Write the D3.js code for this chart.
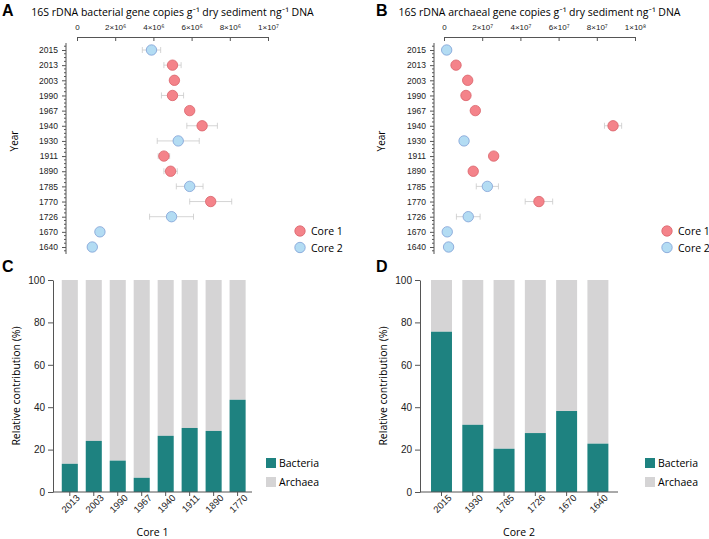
<!DOCTYPE html>
<html>
<head>
<meta charset="utf-8">
<script src="https://cdn.jsdelivr.net/npm/d3@7"></script>
<style>
  body { margin: 0; background: #fff; }
  svg { font-family: "Open Sans", Lato, sans-serif; }
  .axis path, .axis line { stroke: #555; }
  .axis text { fill: #222; }
</style>
</head>
<body>
<div id="chart"></div>
<script>
// ----- data -----
var dotYears = ['2015','2013','2003','1990','1967','1940','1930','1911','1890','1785','1770','1726','1670','1640'];
var dotCore = [2,1,1,1,1,1,2,1,1,2,1,2,2,2];
// panel A: bacterial copies, mean and +/- error
var bacMean = [3.9e6, 5.0e6, 5.1e6, 5.0e6, 5.9e6, 6.55e6, 5.3e6, 4.55e6, 4.9e6, 5.9e6, 7.0e6, 4.95e6, 1.2e6, 0.8e6];
var bacErr  = [0.48e6, 0.45e6, 0.2e6, 0.58e6, 0.15e6, 0.8e6, 1.1e6, 0.3e6, 0.35e6, 0.7e6, 1.1e6, 1.15e6, 0.1e6, 0.1e6];
// panel B: archaeal copies, mean and +/- error
var arcMean = [1.4e6, 6.3e6, 1.24e7, 1.15e7, 1.64e7, 8.85e7, 1.05e7, 2.6e7, 1.53e7, 2.27e7, 4.97e7, 1.27e7, 1.7e6, 2.4e6];
var arcErr  = [1.2e6, 1e6, 2e6, 1e6, 1e6, 4.5e6, 1e6, 1e6, 1e6, 5.8e6, 7.2e6, 6.2e6, 0.5e6, 0.5e6];
var bacTicks = [0, 2e6, 4e6, 6e6, 8e6, 1e7];
var bacTickLabels = ['0', '2×10⁶', '4×10⁶', '6×10⁶', '8×10⁶', '1×10⁷'];
var arcTicks = [0, 2e7, 4e7, 6e7, 8e7, 1e8];
var arcTickLabels = ['0', '2×10⁷', '4×10⁷', '6×10⁷', '8×10⁷', '1×10⁸'];

// panels C and D: relative contribution (%)
var core1Years = ['2013','2003','1990','1967','1940','1911','1890','1770'];
var core1Bacteria = [13.3, 24.1, 14.8, 6.7, 26.5, 30.2, 28.8, 43.5];
var core1Archaea  = [86.7, 75.9, 85.2, 93.3, 73.5, 69.8, 71.2, 56.5];
var core2Years = ['2015','1930','1785','1726','1670','1640'];
var core2Bacteria = [75.6, 31.7, 20.4, 27.8, 38.2, 22.8];
var core2Archaea  = [24.4, 68.3, 79.6, 72.2, 61.8, 77.2];

var core1Fill = '#f4838a', core1Stroke = '#d9626a';
var core2Fill = '#b3dcf3', core2Stroke = '#7f9fd6';
var bacColor = '#1e8280', arcColor = '#d5d4d5';

var svg = d3.select('#chart').append('svg')
            .attr('width', 709)
            .attr('height', 539);

// panel letters
[['A', 2, 16], ['B', 376, 16], ['C', 2, 272], ['D', 376, 272]].forEach(function(p){
    svg.append('text')
        .attr('x', p[1]).attr('y', p[2])
        .text(p[0])
        .style('font-size', '16px')
        .style('font-weight', 'bold')
        .style('font-family', 'Liberation Sans, Arial, sans-serif');
});

// ----- dot panel -----
function dotPanel(opt){
    var g = svg.append('g');
    var xscale = d3.scaleLinear()
                   .domain([0, opt.ticks[opt.ticks.length - 1]])
                   .range([opt.x0, opt.x1]);
    var yscale = d3.scalePoint()
                   .domain(dotYears)
                   .range([50, 247]);

    g.append('text')
        .attr('x', (opt.x0 + opt.x1) / 2)
        .attr('y', 16)
        .style('text-anchor', 'middle')
        .style('font-size', '10.5px')
        .text(opt.title);

    var xaxis = d3.axisTop(xscale)
                  .tickValues(opt.ticks)
                  .tickFormat(function(d, i){ return opt.tickLabels[i]; })
                  .tickSizeInner(-4)
                  .tickSizeOuter(0)
                  .tickPadding(7);
    g.append('g')
        .attr('class', 'axis')
        .attr('transform', 'translate(0,37)')
        .call(xaxis)
        .selectAll('text')
        .style('font-size', '8px');

    // y axis with minor ticks between years
    var yaxis = d3.axisLeft(yscale).tickSize(4).tickPadding(4);
    var ya = g.append('g')
        .attr('class', 'axis')
        .attr('transform', 'translate(' + opt.yx + ',0)')
        .call(yaxis);
    ya.select('.domain').attr('d', 'M0,43V254');
    ya.selectAll('text').style('font-size', '8.5px');
    var step = yscale.step();
    var minor = [];
    d3.range(-1, dotYears.length).forEach(function(i){
        [0.25, 0.5, 0.75].forEach(function(f){
            var y = 50 + (i + f) * step;
            if (y > 43 && y < 254) minor.push(y);
        });
    });
    ya.selectAll('.minor').data(minor).join('line')
        .attr('class', 'minor')
        .attr('x1', -2).attr('x2', 0)
        .attr('y1', d => d).attr('y2', d => d)
        .attr('stroke', '#555');

    g.append('text')
        .attr('transform', 'translate(' + opt.labelX + ',141) rotate(-90)')
        .style('text-anchor', 'middle')
        .style('font-size', '10px')
        .text('Year');

    var rows = dotYears.map(function(y, i){
        return {year: y, core: dotCore[i], v: opt.mean[i], e: opt.err[i]};
    });

    // error bars
    var eb = g.append('g').selectAll('g').data(rows).join('g')
              .attr('stroke', '#c9c9c9').attr('stroke-width', 0.8);
    eb.append('line')
        .attr('x1', d => xscale(d.v - d.e)).attr('x2', d => xscale(d.v + d.e))
        .attr('y1', d => yscale(d.year)).attr('y2', d => yscale(d.year));
    eb.append('line')
        .attr('x1', d => xscale(d.v - d.e)).attr('x2', d => xscale(d.v - d.e))
        .attr('y1', d => yscale(d.year) - 3).attr('y2', d => yscale(d.year) + 3);
    eb.append('line')
        .attr('x1', d => xscale(d.v + d.e)).attr('x2', d => xscale(d.v + d.e))
        .attr('y1', d => yscale(d.year) - 3).attr('y2', d => yscale(d.year) + 3);

    g.append('g').selectAll('circle').data(rows).join('circle')
        .attr('cx', d => xscale(d.v))
        .attr('cy', d => yscale(d.year))
        .attr('r', 5.2)
        .attr('fill', d => d.core === 1 ? core1Fill : core2Fill)
        .attr('stroke', d => d.core === 1 ? core1Stroke : core2Stroke)
        .attr('stroke-width', 0.8);

    // legend
    [['Core 1', core1Fill, core1Stroke], ['Core 2', core2Fill, core2Stroke]].forEach(function(l, i){
        g.append('circle')
            .attr('cx', opt.legX).attr('cy', 231 + i * 16.5)
            .attr('r', 5.2)
            .attr('fill', l[1]).attr('stroke', l[2]).attr('stroke-width', 0.8);
        g.append('text')
            .attr('x', opt.legX + 11).attr('y', 231 + i * 16.5)
            .attr('dominant-baseline', 'central')
            .style('font-size', '10.5px')
            .text(l[0]);
    });
}

dotPanel({x0: 77, x1: 268, yx: 66, labelX: 18, legX: 300,
          ticks: bacTicks, tickLabels: bacTickLabels, mean: bacMean, err: bacErr,
          title: '16S rDNA bacterial gene copies g⁻¹ dry sediment ng⁻¹ DNA'});
dotPanel({x0: 444, x1: 635, yx: 434, labelX: 385, legX: 667,
          ticks: arcTicks, tickLabels: arcTickLabels, mean: arcMean, err: arcErr,
          title: '16S rDNA archaeal gene copies g⁻¹ dry sediment ng⁻¹ DNA'});

// ----- stacked bar panel -----
function barPanel(opt){
    var g = svg.append('g');
    var xscale = d3.scaleBand()
                   .domain(opt.years)
                   .range([opt.bx0, opt.bx1])
                   .paddingInner(0.33)
                   .paddingOuter(0.17);
    var yscale = d3.scaleLinear()
                   .domain([0, 100])
                   .range([492, 280]);

    var rows = opt.years.map(function(y, i){
        return {year: y, bac: opt.bac[i], arc: opt.arc[i]};
    });
    g.append('g').selectAll('rect').data(rows).join('rect')
        .attr('x', d => xscale(d.year))
        .attr('y', d => yscale(d.bac + d.arc))
        .attr('width', xscale.bandwidth())
        .attr('height', d => yscale(d.bac) - yscale(d.bac + d.arc))
        .attr('fill', arcColor);
    g.append('g').selectAll('rect').data(rows).join('rect')
        .attr('x', d => xscale(d.year))
        .attr('y', d => yscale(d.bac))
        .attr('width', xscale.bandwidth())
        .attr('height', d => yscale(0) - yscale(d.bac))
        .attr('fill', bacColor);

    var yaxis = d3.axisLeft(yscale).tickValues([0, 20, 40, 60, 80, 100])
                  .tickSizeInner(5).tickSizeOuter(0).tickPadding(3);
    var ya = g.append('g')
        .attr('class', 'axis')
        .attr('transform', 'translate(' + opt.ax + ',0)')
        .call(yaxis);
    ya.selectAll('text').style('font-size', '10px');

    var xaxis = d3.axisBottom(xscale).tickSizeInner(4).tickSizeOuter(0);
    var xa = g.append('g')
        .attr('class', 'axis')
        .attr('transform', 'translate(0,492)')
        .call(xaxis);
    xa.select('.domain').attr('d', 'M' + (opt.ax - xscale.range()[0] + xscale.range()[0]) + ',0H' + opt.axEnd);
    xa.selectAll('text')
        .style('font-size', '9.5px')
        .style('text-anchor', 'end')
        .attr('dx', '0.3em')
        .attr('dy', '0.55em')
        .attr('transform', 'rotate(-45)');

    g.append('text')
        .attr('x', (opt.ax + opt.axEnd) / 2)
        .attr('y', 536)
        .style('text-anchor', 'middle')
        .style('font-size', '10.5px')
        .text(opt.xlabel);

    g.append('text')
        .attr('transform', 'translate(' + opt.labelX + ',386) rotate(-90)')
        .style('text-anchor', 'middle')
        .style('font-size', '10.5px')
        .text('Relative contribution (%)');

    [['Bacteria', bacColor], ['Archaea', arcColor]].forEach(function(l, i){
        g.append('rect')
            .attr('x', opt.legX).attr('y', 458 + i * 19)
            .attr('width', 10).attr('height', 10)
            .attr('fill', l[1]);
        g.append('text')
            .attr('x', opt.legX + 13).attr('y', 463 + i * 19)
            .attr('dominant-baseline', 'central')
            .style('font-size', '10.5px')
            .text(l[0]);
    });
}

barPanel({years: core1Years, bac: core1Bacteria, arc: core1Archaea,
          bx0: 57.7, bx1: 249.7, ax: 53, axEnd: 252, labelX: 20, legX: 266, xlabel: 'Core 1'});
barPanel({years: core2Years, bac: core2Bacteria, arc: core2Archaea,
          bx0: 425.7, bx1: 613.7, ax: 420, axEnd: 618, labelX: 387, legX: 645, xlabel: 'Core 2'});
</script>
</body>
</html>
